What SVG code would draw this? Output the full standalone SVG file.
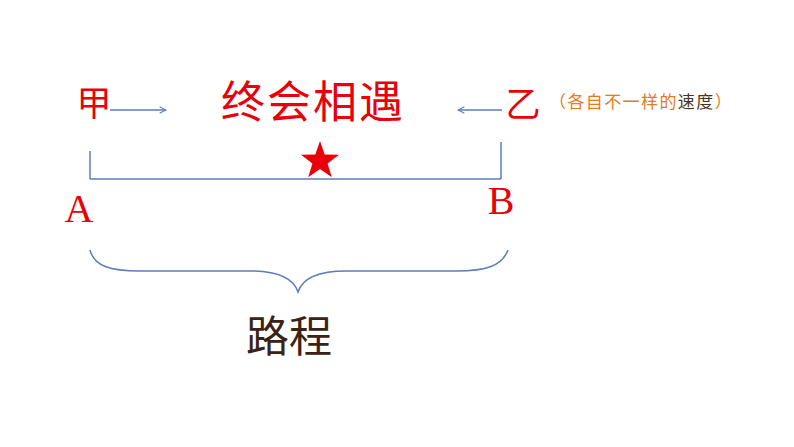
<svg xmlns="http://www.w3.org/2000/svg" width="794" height="447" viewBox="0 0 794 447">
<defs>
<style>
.cjk{font-family:"Noto Sans CJK SC","Noto Sans CJK JP",sans-serif}
.red{fill:#E8000B}
.ln{stroke:#5B7DB8;stroke-width:1.5;fill:none}
.lat{font-family:"Liberation Serif",serif;fill:#E8000B}
</style>
<marker id="ah" viewBox="0 0 10 10" refX="9" refY="5" markerWidth="8" markerHeight="8" orient="auto" markerUnits="userSpaceOnUse">
<path d="M1,1 L9,5 L1,9" fill="none" stroke="#5B7DB8" stroke-width="1.3"/>
</marker>
</defs>
<rect width="794" height="447" fill="#fff"/>
<g id="connectors">
<line class="ln" x1="110" y1="110" x2="166" y2="110" marker-end="url(#ah)"/>
<line class="ln" x1="502" y1="110" x2="458" y2="110" marker-end="url(#ah)"/>
<line class="ln" x1="90" y1="179" x2="501" y2="179"/>
<line class="ln" x1="90" y1="151" x2="90" y2="179"/>
<line class="ln" x1="501" y1="142" x2="501" y2="179"/>
<path class="ln" d="M90,250 C94,266 110,271 140,271 L250,271 C280,271 294,280 298,292 C302,280 316,271 346,271 L456,271 C486,271 502,266 508,250"/>
</g>
<g id="jia"><text class="cjk red" x="94" y="116" font-size="35" text-anchor="middle">甲</text></g>
<g id="title"><text class="cjk red" x="313" y="118" font-size="44" text-anchor="middle" letter-spacing="2">终会相遇</text></g>
<g id="yi"><text class="cjk red" x="523" y="117" font-size="35" text-anchor="middle">乙</text></g>
<g id="note"><text class="cjk" x="549" y="108" font-size="17" letter-spacing="1.4" fill="#E07C1F">（各自不一样的<tspan fill="#4A3420">速度</tspan>）</text></g>
<g id="star"><polygon class="red" points="320,141 324.7,154.5 339,154.8 327.6,163.4 331.8,177.2 320,169 308.2,177.2 312.4,163.4 301,154.8 315.3,154.5"/></g>
<g id="A"><text class="lat" x="79" y="222" font-size="40" text-anchor="middle">A</text></g>
<g id="B"><text class="lat" x="501" y="214" font-size="40" text-anchor="middle">B</text></g>
<g id="lucheng"><text class="cjk" x="289" y="352" font-size="43" text-anchor="middle" fill="#3B2314">路程</text></g>
</svg>
